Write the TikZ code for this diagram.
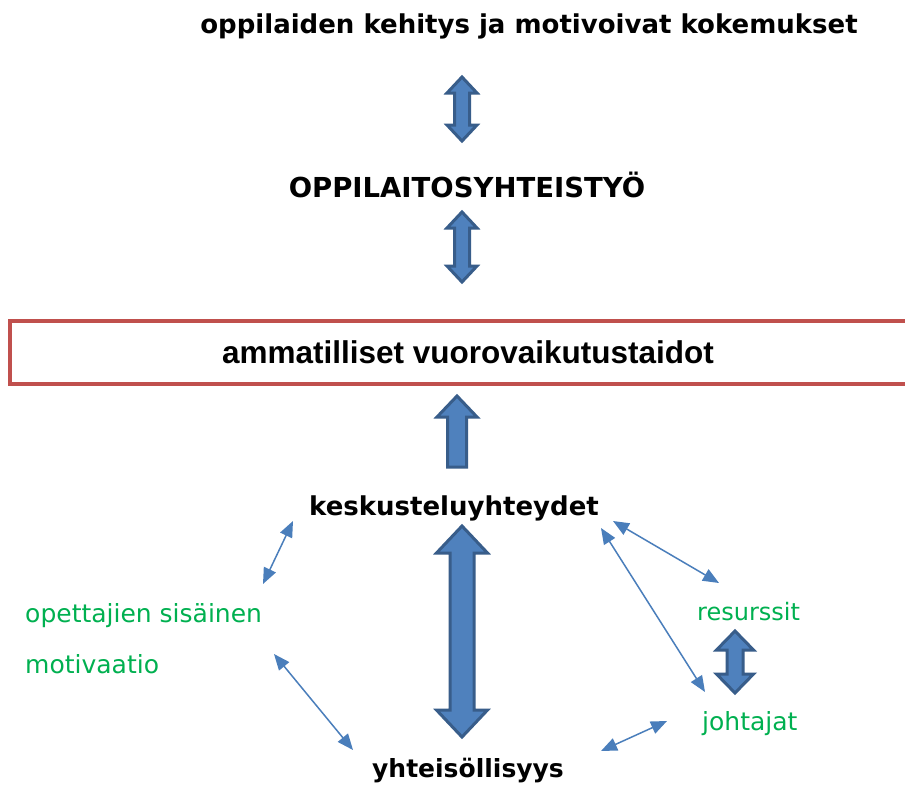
\documentclass[tikz,border=0pt]{standalone}
\usepackage{fontspec}
\setmainfont{DejaVu Sans}
\newfontfamily\arialfont{Liberation Sans}
\usetikzlibrary{arrows.meta}
\definecolor{blockfill}{HTML}{4F81BD}
\definecolor{blockline}{HTML}{385D8A}
\definecolor{thinblue}{HTML}{4A7EBB}
\definecolor{grn}{HTML}{00B050}
\definecolor{redline}{HTML}{C0504D}
\tikzset{
  blockarrow/.style={fill=blockfill, draw=blockline, line width=3pt, line join=miter},
  boldlabel/.style={font=\bfseries, inner sep=0pt, anchor=base},
  greenlabel/.style={text=grn, inner sep=0pt, anchor=base west},
  thinarrow/.style={draw=thinblue, line width=1.5pt, {Triangle[length=16pt,width=13pt]}-{Triangle[length=16pt,width=13pt]}},
}
\newcommand\vdarrow[6]{% center x, top, bottom, head half width, head length, shaft half width
  \filldraw[blockarrow] (#1,#2) -- ({#1+#4},{#2+#5}) -- ({#1+#6},{#2+#5}) -- ({#1+#6},{#3-#5})
    -- ({#1+#4},{#3-#5}) -- (#1,#3) -- ({#1-#4},{#3-#5}) -- ({#1-#6},{#3-#5})
    -- ({#1-#6},{#2+#5}) -- ({#1-#4},{#2+#5}) -- cycle;}
\newcommand\fsz[1]{\fontsize{#1}{#1}\selectfont}
\begin{document}
\begin{tikzpicture}[x=1pt,y=-1pt]
\useasboundingbox (0,0) rectangle (905,787);
\clip (0,0) rectangle (905,787);
\fill[white] (0,0) rectangle (905,787);

% texts
\node[boldlabel, font=\bfseries\fsz{26}] (kehitys) at (529,33) {oppilaiden kehitys ja motivoivat kokemukset};
\node[boldlabel, font=\bfseries\fsz{27.5}] (yhteistyo) at (467,197) {OPPILAITOSYHTEISTYÖ};
\node[draw=redline, line width=4pt, minimum width=900pt, minimum height=63pt, inner sep=0pt] (box) at (460,352.5) {};
\node[font=\arialfont\bfseries\fsz{31.5}, inner sep=0pt, anchor=base] (taidot) at (468,363) {ammatilliset vuorovaikutustaidot};
\node[boldlabel, font=\bfseries\fsz{26}] (keskustelu) at (454,515) {keskusteluyhteydet};
\node[boldlabel, font=\bfseries\fsz{25}] (yhteisollisyys) at (468,777) {yhteisöllisyys};
\node[greenlabel, font=\fsz{25}] (opettajien) at (25,622) {opettajien sisäinen};
\node[greenlabel, font=\fsz{25}] (motivaatio) at (25,673) {motivaatio};
\node[greenlabel, font=\fsz{24}] (resurssit) at (697,620) {resurssit};
\node[greenlabel, font=\fsz{25}] (johtajat) at (702,730) {johtajat};

% block arrows
\vdarrow{462}{77}{141}{15}{16}{7.5}
\vdarrow{462}{212}{282}{15}{16}{7.5}
\filldraw[blockarrow] (457,396) -- (477,417) -- (466.5,417) -- (466.5,467) -- (447.5,467) -- (447.5,417) -- (437,417) -- cycle;
\vdarrow{462}{526}{737}{25.5}{27}{12}
\vdarrow{735}{631}{693}{18.5}{19}{8}

% thin arrows
\coordinate (a1s) at (293,521); \coordinate (a1e) at (263,584);
\coordinate (a2s) at (274,654); \coordinate (a2e) at (353,750);
\coordinate (a3s) at (613,521); \coordinate (a3e) at (719,583);
\coordinate (a4s) at (601,528); \coordinate (a4e) at (705,692);
\coordinate (a5s) at (601,751); \coordinate (a5e) at (667,721);
\draw[thinarrow] (a1s) -- (a1e);
\draw[thinarrow] (a2s) -- (a2e);
\draw[thinarrow] (a3s) -- (a3e);
\draw[thinarrow] (a4s) -- (a4e);
\draw[thinarrow] (a5s) -- (a5e);
\end{tikzpicture}
\end{document}
